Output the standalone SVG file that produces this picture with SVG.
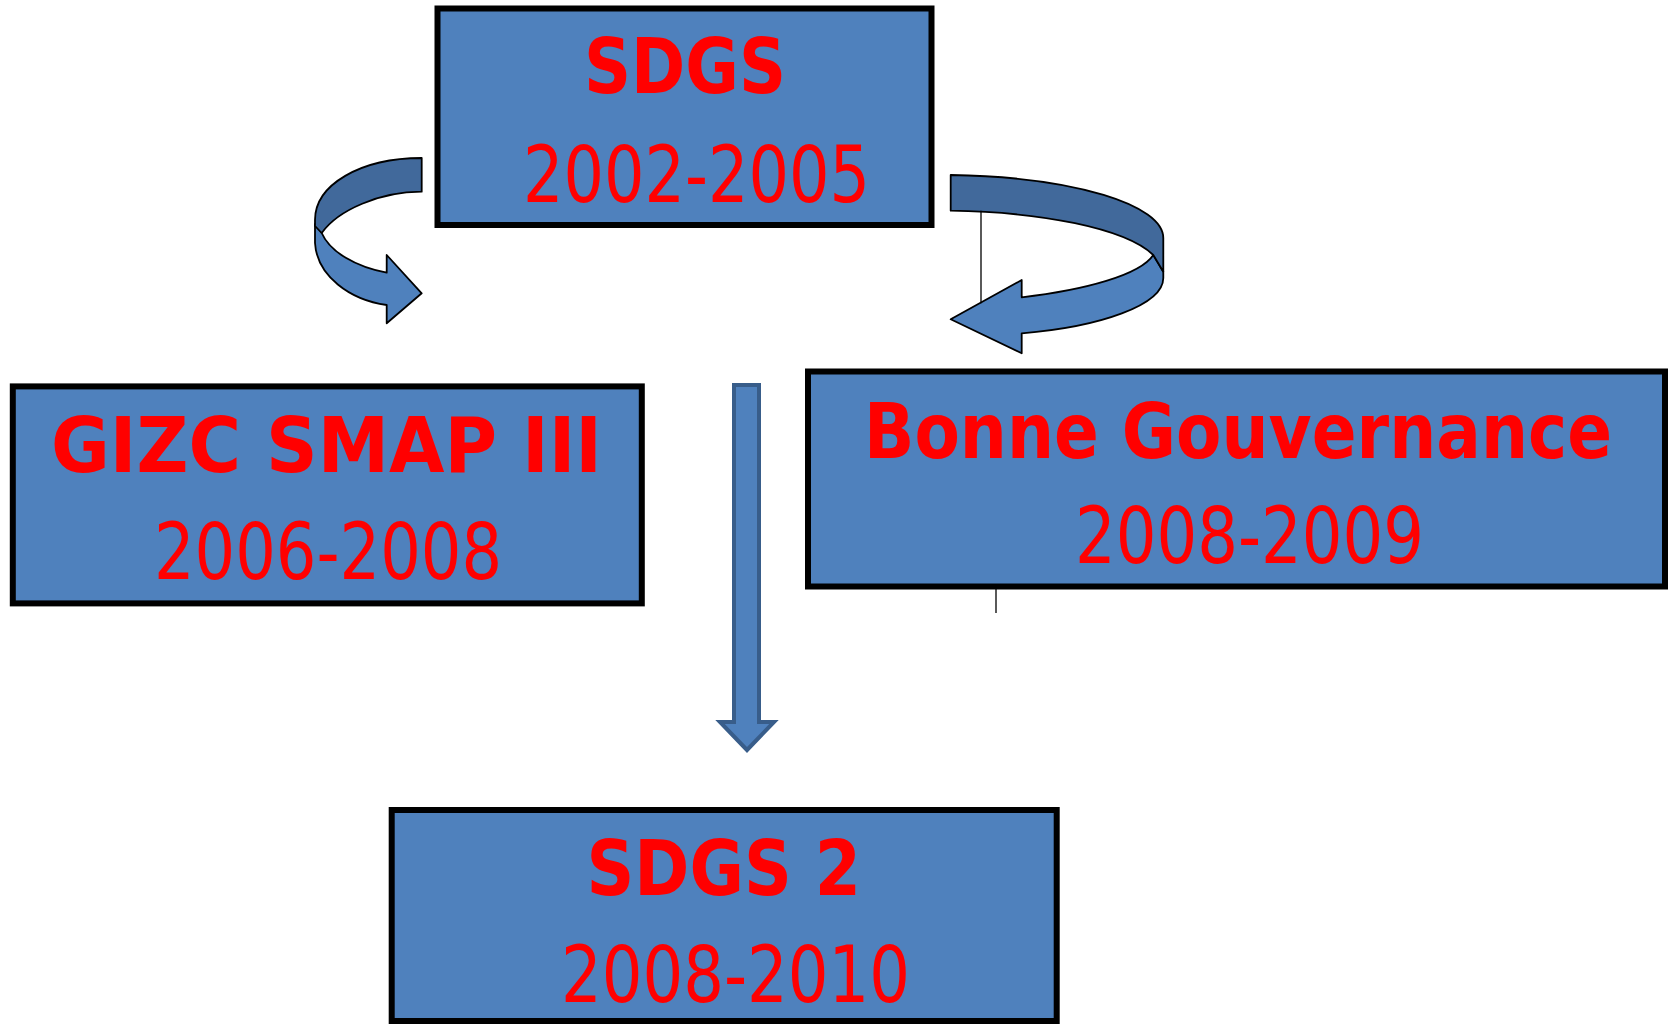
<svg xmlns="http://www.w3.org/2000/svg" width="1669" height="1025" viewBox="0 0 1669 1025">
<style>
.box{fill:#4f81bd;stroke:#000;stroke-width:6}
.t{fill:#ff0000;font-family:"DejaVu Sans","Liberation Sans",sans-serif;font-weight:bold;font-size:77px}
.y{fill:#ff0000;font-family:"DejaVu Sans","Liberation Sans",sans-serif;font-size:79px}
.dk{fill:#41699b;stroke:#000;stroke-width:1.8;stroke-linejoin:round}
.lt{fill:#4f81bd;stroke:#000;stroke-width:1.8;stroke-linejoin:round}
.ln{stroke:#000;stroke-width:1.3;fill:none}
</style>
<rect width="1669" height="1025" fill="#fff"/>
<g id="connectors">
  <g id="arrow-left">
    <path class="lt" d="M315,224 L315,243 C317,276 350,300 386.7,305 L386.7,323.3 L421.7,293.3 L386.7,255 L386.7,272.7 C356,267 330,252 321.7,233 Z"/>
    <path class="dk" d="M421.7,158 C360,158 315,185 315,220 L315,226 L321.7,233 C338,210 380,191.7 421.7,191.7 Z"/>
  </g>
  <g id="arrow-right">
    <path class="lt" d="M1153.3,255 L1163.3,271.7 L1163.3,278 C1163.3,305 1100,327 1021.7,333.3 L1021.7,353.3 L950.7,319.3 L1021.7,280 L1021.7,297.3 C1085,290 1140,275 1153.3,255 Z"/>
    <path class="dk" d="M950.7,175 C1075,177 1163.3,205 1163.3,238 L1163.3,271.7 L1153.3,255 C1125,228 1040,212 950.7,210.7 Z"/>
    <line class="ln" x1="981" y1="210.7" x2="981" y2="303.3"/>
  </g>
  <path id="arrow-down" d="M734,385 L759,385 L759,722 L774,722 L747,750 L720,722 L734,722 Z" fill="#4f81bd" stroke="#385d8a" stroke-width="4"/>
  <line class="ln" x1="996" y1="589" x2="996" y2="613"/>
</g>
<g id="node-sdgs">
  <rect class="box" x="437.5" y="8.5" width="494" height="216.5"/>
  <text class="t" x="584" y="93" textLength="202" lengthAdjust="spacingAndGlyphs">SDGS</text>
  <text class="y" x="523" y="202" textLength="347" lengthAdjust="spacingAndGlyphs">2002-2005</text>
</g>
<g id="node-gizc">
  <rect class="box" x="12.8" y="386.4" width="629" height="217"/>
  <text class="t" x="51" y="472" textLength="551" lengthAdjust="spacingAndGlyphs">GIZC SMAP III</text>
  <text class="y" x="154" y="579" textLength="348" lengthAdjust="spacingAndGlyphs">2006-2008</text>
</g>
<g id="node-bonne">
  <rect class="box" x="808" y="371.5" width="857" height="215"/>
  <text class="t" x="864" y="458" textLength="748" lengthAdjust="spacingAndGlyphs">Bonne Gouvernance</text>
  <text class="y" x="1075" y="563" textLength="349" lengthAdjust="spacingAndGlyphs">2008-2009</text>
</g>
<g id="node-sdgs2">
  <rect class="box" x="391.7" y="810" width="665" height="211"/>
  <text class="t" x="586.5" y="895" textLength="274.5" lengthAdjust="spacingAndGlyphs">SDGS 2</text>
  <text class="y" x="561" y="1002" textLength="349" lengthAdjust="spacingAndGlyphs">2008-2010</text>
</g>
</svg>
